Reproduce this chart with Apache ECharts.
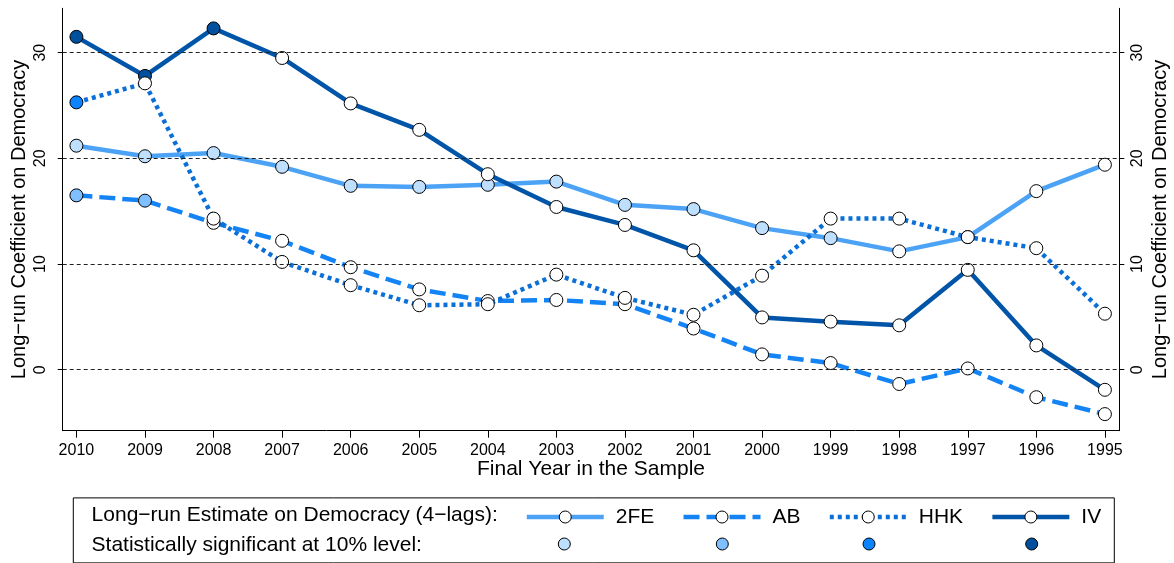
<!DOCTYPE html>
<html>
<head>
<meta charset="utf-8">
<script src="https://cdn.jsdelivr.net/npm/echarts@6/dist/echarts.min.js"></script>
<style>
html,body{margin:0;padding:0;background:#fff;}
#chart{width:1174px;height:563px;}
</style>
</head>
<body>
<div id="chart"></div>
<script>
// ---- data ----
const years = ['2010','2009','2008','2007','2006','2005','2004','2003','2002','2001','2000','1999','1998','1997','1996','1995'];
const v2FE = [21.2, 20.2, 20.5, 19.2, 17.4, 17.3, 17.5, 17.8, 15.6, 15.2, 13.4, 12.45, 11.2, 12.55, 16.9, 19.4];
const vAB  = [16.5, 16.0, 13.9, 12.2, 9.7, 7.6, 6.5, 6.6, 6.2, 3.9, 1.45, 0.63, -1.35, 0.12, -2.6, -4.2];
const vHHK = [25.3, 27.1, 14.3, 10.2, 8.0, 6.1, 6.2, 9.0, 6.8, 5.2, 8.9, 14.3, 14.3, 12.55, 11.5, 5.3];
const vIV  = [31.5, 27.8, 32.3, 29.5, 25.2, 22.7, 18.5, 15.4, 13.7, 11.3, 4.95, 4.55, 4.2, 9.45, 2.3, -1.9];
// significant at 10% level (1 = yes)
const sig2FE = [1,1,1,1,1,1,1,1,1,1,1,1,0,0,0,0];
const sigAB  = [1,1,0,0,0,0,0,0,0,0,0,0,0,0,0,0];
const sigHHK = [1,0,0,0,0,0,0,0,0,0,0,0,0,0,0,0];
const sigIV  = [1,1,1,0,0,0,0,0,0,0,0,0,0,0,0,0];
const yTicks = [0, 10, 20, 30];
const seriesNames = ['2FE', 'AB', 'HHK', 'IV'];

// ---- styles ----
const FONT = '"Liberation Sans", Arial, Helvetica, sans-serif';
const lineColors = {'2FE':'#4CA3F5', 'AB':'#1484F5', 'HHK':'#0A6FD6', 'IV':'#0055A8'};
const sigColors  = {'2FE':'#BFDFFF', 'AB':'#80BFFF', 'HHK':'#0A84FF', 'IV':'#00509E'};
const dashTypes  = {'2FE':'solid', 'AB':[16,7], 'HHK':[4,4], 'IV':'solid'};
const allVals = {'2FE':v2FE, 'AB':vAB, 'HHK':vHHK, 'IV':vIV};
const allSig = {'2FE':sig2FE, 'AB':sigAB, 'HHK':sigHHK, 'IV':sigIV};

function makeSeries(name, extra) {
  const vals = allVals[name], sig = allSig[name];
  const s = {
    name: name,
    type: 'line',
    yAxisIndex: 0,
    symbol: 'circle',
    symbolSize: 13,
    showAllSymbol: true,
    animation: false,
    lineStyle: {color: lineColors[name], width: 4.5, type: dashTypes[name], cap: 'butt'},
    itemStyle: {color: '#ffffff', borderColor: '#000000', borderWidth: 1},
    emphasis: {disabled: true},
    data: vals.map((v, i) => ({
      value: [i, v],
      itemStyle: {color: sig[i] ? sigColors[name] : '#ffffff', borderColor: '#000', borderWidth: 1}
    }))
  };
  return Object.assign(s, extra || {});
}

const chart = echarts.init(document.getElementById('chart'), null, {renderer: 'canvas'});

const yAxisCommon = {
  type: 'value',
  min: -5.77,
  max: 34.2,
  splitLine: {show: false},
  axisLine: {show: true, onZero: false, lineStyle: {color: '#000', width: 1}},
  axisTick: {show: true, customValues: yTicks, length: 5, inside: false, lineStyle: {color: '#000'}},
  axisLabel: {customValues: yTicks, rotate: 90, fontSize: 16, color: '#000', fontFamily: FONT},
  name: 'Long\u2212run Coefficient on Democracy',
  nameLocation: 'middle',
  nameRotate: 90,
  nameMoveOverlap: false,
  nameTextStyle: {fontSize: 20, color: '#000', fontFamily: FONT}
};

const option = {
  backgroundColor: '#fff',
  animation: false,
  textStyle: {fontFamily: FONT},
  grid: {left: 62.7, right: 54.7, top: 8.3, bottom: 132.3, containLabel: false, outerBoundsMode: 'none'},
  xAxis: {
    type: 'value',
    min: -0.2,
    max: 15.21,
    splitLine: {show: false},
    axisLine: {show: true, onZero: false, lineStyle: {color: '#000', width: 1}},
    axisTick: {show: true, customValues: years.map((y, i) => i), length: 7, lineStyle: {color: '#000'}},
    axisLabel: {customValues: years.map((y, i) => i), formatter: v => years[Math.round(v)], fontSize: 16, color: '#000', margin: 12, fontFamily: FONT},
    name: 'Final Year in the Sample',
    nameLocation: 'middle',
    nameGap: 28.5,
    nameMoveOverlap: false,
    nameTextStyle: {fontSize: 21, color: '#000', fontFamily: FONT}
  },
  yAxis: [
    Object.assign({}, yAxisCommon, {position: 'left', nameGap: 33, axisLabel: Object.assign({}, yAxisCommon.axisLabel, {margin: 14})}),
    Object.assign({}, yAxisCommon, {position: 'right', nameGap: 31, axisLabel: Object.assign({}, yAxisCommon.axisLabel, {margin: 10})})
  ],
  legend: {
    data: seriesNames,
    orient: 'horizontal',
    left: 524.5,
    top: 506.5,
    padding: 0,
    itemWidth: 77,
    itemHeight: 15,
    itemGap: 27,
    selectedMode: false,
    textStyle: {fontSize: 21, color: '#000', fontFamily: FONT, padding: [0, 0, 0, 7]},
    lineStyle: {width: 4.5},
    itemStyle: {color: '#fff', borderColor: '#000', borderWidth: 1}
  },
  graphic: [
    {type: 'rect', left: 70.8, top: 495.4, shape: {width: 1041, height: 65}, style: {fill: 'none', stroke: '#000', lineWidth: 1}, z: 0},
    {type: 'text', left: 91.6, top: 505, style: {text: 'Long\u2212run Estimate on Democracy (4\u2212lags):', fontSize: 21, fill: '#000', fontFamily: FONT}},
    {type: 'text', left: 91.6, top: 534.5, style: {text: 'Statistically significant at 10% level:', fontSize: 21, fill: '#000', fontFamily: FONT}},
    {type: 'circle', shape: {cx: 564.3, cy: 544, r: 6}, style: {fill: sigColors['2FE'], stroke: '#000', lineWidth: 1}},
    {type: 'circle', shape: {cx: 722.3, cy: 544, r: 6}, style: {fill: sigColors['AB'], stroke: '#000', lineWidth: 1}},
    {type: 'circle', shape: {cx: 869, cy: 544, r: 6}, style: {fill: sigColors['HHK'], stroke: '#000', lineWidth: 1}},
    {type: 'circle', shape: {cx: 1031.7, cy: 544, r: 6}, style: {fill: sigColors['IV'], stroke: '#000', lineWidth: 1}}
  ],
  series: [
    makeSeries('2FE', {
      markLine: {
        silent: true,
        symbol: ['none', 'none'],
        label: {show: false},
        animation: false,
        lineStyle: {color: '#222', width: 1, type: [4, 3]},
        emphasis: {disabled: true},
        data: yTicks.map(t => ({yAxis: t}))
      },
      z: 1
    }),
    makeSeries('AB', {z: 2}),
    makeSeries('IV', {z: 3}),
    makeSeries('HHK', {z: 4})
  ]
};
chart.setOption(option);
</script>
</body>
</html>
